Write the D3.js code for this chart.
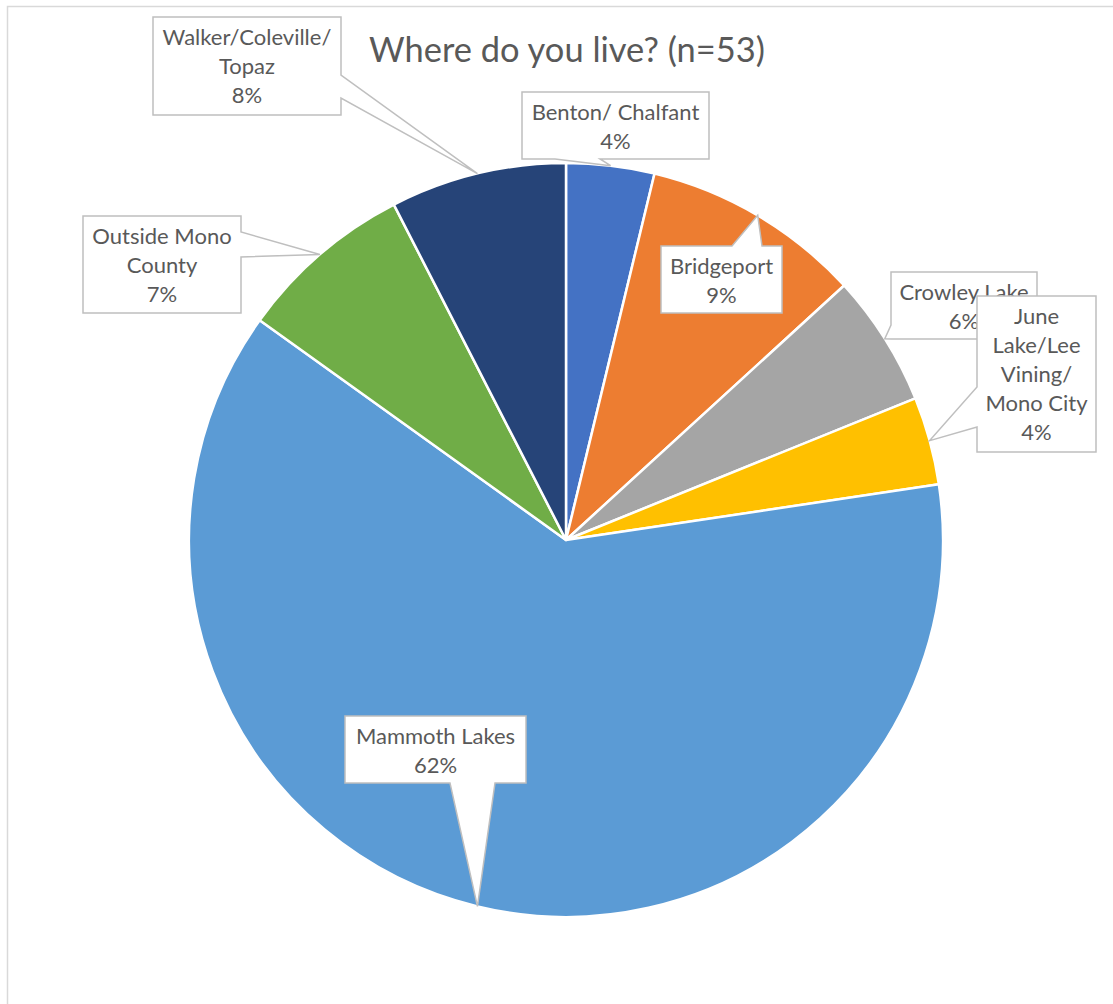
<!DOCTYPE html>
<html>
<head>
<meta charset="utf-8">
<script src="https://cdn.jsdelivr.net/npm/d3@7/dist/d3.min.js"></script>
<style>
  html, body { margin: 0; padding: 0; background: #fff; }
  svg { display: block; }
</style>
</head>
<body>
<svg id="chart" width="1113" height="1004"></svg>
<script>
// ---------- data ----------
const title = "Where do you live? (n=53)";
const categories = ["Benton/ Chalfant", "Bridgeport", "Crowley Lake", "June Lake/Lee Vining/ Mono City",
                    "Mammoth Lakes", "Outside Mono County", "Walker/Coleville/ Topaz"];
const counts = [2, 5, 3, 2, 33, 4, 4];
const pctLabels = ["4%", "9%", "6%", "4%", "62%", "7%", "8%"];
const labelLines = [
  ["Benton/ Chalfant"],
  ["Bridgeport"],
  ["Crowley Lake"],
  ["June", "Lake/Lee", "Vining/", "Mono City"],
  ["Mammoth Lakes"],
  ["Outside Mono", "County"],
  ["Walker/Coleville/", "Topaz"]
];
const colors = ["#4472C4", "#ED7D31", "#A5A5A5", "#FFC000", "#5B9BD5", "#70AD47", "#264478"];

// ---------- layout (callout boxes) ----------
const boxes = [
  {x: 522, y: 92,  w: 187, h: 67,  side: "bottom", b: [600, 555]},
  {x: 661, y: 246, w: 121, h: 67,  side: "top",    b: [732, 762]},
  {x: 891, y: 272, w: 146, h: 67,  side: "left",   b: [339, 325]},
  {x: 977, y: 296, w: 119, h: 156, side: "left",   b: [427, 387]},
  {x: 345, y: 716, w: 181, h: 67,  side: "bottom", b: [495, 450]},
  {x: 83,  y: 216, w: 158, h: 97,  side: "right",  b: [232, 257]},
  {x: 153, y: 17,  w: 188, h: 98,  side: "right",  b: [75, 98]}
];

const svg = d3.select("#chart");
const cx = 566, cy = 540, R = 377;
const textColor = "#595959";
const font = "Lato, 'Open Sans', sans-serif";

// frame
svg.append("path")
  .attr("d", "M7.5,1004 V6.5 H1113")
  .attr("fill", "none").attr("stroke", "#D9D9D9").attr("stroke-width", 1.5);

// title
const t = svg.append("text")
  .attr("x", 567).attr("y", 62)
  .attr("text-anchor", "middle")
  .attr("font-family", font).attr("font-size", 29)
  .attr("fill", textColor)
  .text(title);
(function fit(el, target) {
  const w = el.node().getComputedTextLength();
  if (w > 0) el.attr("font-size", 29 * target / w);
})(t, 396);

// pie
const pie = d3.pie().sort(null).value(d => d).startAngle(0).endAngle(2 * Math.PI);
const arcs = pie(counts);
const arc = d3.arc().innerRadius(0).outerRadius(R);
const g = svg.append("g").attr("transform", `translate(${cx},${cy})`);
g.selectAll("path.slice").data(arcs).enter().append("path")
  .attr("class", "slice")
  .attr("d", arc)
  .attr("fill", (d, i) => colors[i])
  .attr("stroke", "#fff").attr("stroke-width", 2.5)
  .attr("stroke-linejoin", "round");

// callouts
function calloutPath(b, tip) {
  const x0 = b.x, y0 = b.y, x1 = b.x + b.w, y1 = b.y + b.h;
  const pts = [[x0, y0]];
  if (b.side === "top") { pts.push([b.b[0], y0], tip, [b.b[1], y0]); }
  pts.push([x1, y0]);
  if (b.side === "right") { pts.push([x1, b.b[0]], tip, [x1, b.b[1]]); }
  pts.push([x1, y1]);
  if (b.side === "bottom") { pts.push([b.b[0], y1], tip, [b.b[1], y1]); }
  pts.push([x0, y1]);
  if (b.side === "left") { pts.push([x0, b.b[0]], tip, [x0, b.b[1]]); }
  return "M" + pts.map(p => p[0] + "," + p[1]).join("L") + "Z";
}

const lineH = 29.2;
arcs.forEach((a, i) => {
  const mid = (a.startAngle + a.endAngle) / 2;
  const tip = [cx + R * Math.sin(mid), cy - R * Math.cos(mid)];
  const b = boxes[i];
  const lg = svg.append("g").attr("class", "callout");
  lg.append("path")
    .attr("d", calloutPath(b, tip))
    .attr("fill", "#fff")
    .attr("stroke", "#BFBFBF").attr("stroke-width", 1.5)
    .attr("stroke-linejoin", "miter");
  const lines = labelLines[i].concat([pctLabels[i]]);
  const tx = lg.append("text")
    .attr("font-family", font).attr("font-size", 22)
    .attr("fill", textColor).attr("text-anchor", "middle");
  lines.forEach((ln, k) => {
    tx.append("tspan")
      .attr("x", b.x + b.w / 2)
      .attr("y", b.y + 27.5 + k * lineH)
      .text(ln);
  });
});
</script>
</body>
</html>
